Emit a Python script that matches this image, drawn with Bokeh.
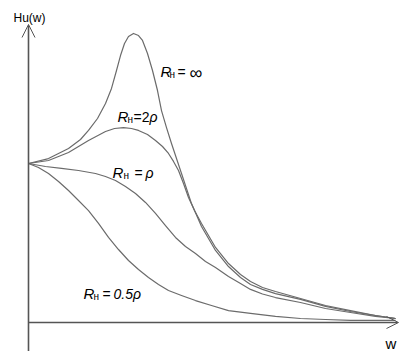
from bokeh.plotting import figure
from bokeh.models import Range1d, Arrow, OpenHead, Label
from bokeh.embed import file_html
from bokeh.resources import INLINE

# ---- data (w, Hu(w) normalised so Hu(0)=1) ----
w_inf = [0, 0.2, 0.4, 0.52, 0.6, 0.69, 0.77, 0.83, 0.88, 0.92, 0.96, 1.0, 1.05, 1.1, 1.14,
         1.19, 1.24, 1.29, 1.33, 1.38, 1.43, 1.53, 1.63, 1.73, 1.87, 2.0, 2.12, 2.22, 2.34,
         2.47, 2.72, 2.97, 3.22, 3.47, 3.67]
h_inf = [1.0, 1.031, 1.094, 1.151, 1.208, 1.283, 1.377, 1.472, 1.585, 1.679, 1.755, 1.799,
         1.818, 1.805, 1.774, 1.692, 1.585, 1.459, 1.333, 1.226, 1.126, 0.937, 0.748, 0.604,
         0.453, 0.352, 0.283, 0.239, 0.208, 0.182, 0.145, 0.101, 0.069, 0.044, 0.025]

w_2r = [0, 0.2, 0.4, 0.6, 0.77, 0.86, 0.95, 1.03, 1.1, 1.19, 1.27, 1.34, 1.4, 1.45, 1.5,
        1.55, 1.6, 1.66, 1.73, 1.87, 2.0, 2.12, 2.22, 2.34, 2.47, 2.72, 2.97, 3.22, 3.47, 3.67]
h_2r = [1.0, 1.019, 1.069, 1.145, 1.201, 1.220, 1.226, 1.220, 1.208, 1.182, 1.145, 1.107,
        1.063, 1.013, 0.956, 0.874, 0.786, 0.704, 0.623, 0.472, 0.371, 0.302, 0.258, 0.220,
        0.195, 0.151, 0.107, 0.075, 0.044, 0.025]

w_r = [0, 0.17, 0.33, 0.5, 0.67, 0.77, 0.87, 0.97, 1.07, 1.17, 1.27, 1.37, 1.47, 1.57, 1.67,
       1.77, 1.87, 2.0, 2.12, 2.22, 2.34, 2.47, 2.72, 2.97, 3.22, 3.47, 3.67]
h_r = [1.0, 0.981, 0.969, 0.956, 0.937, 0.918, 0.893, 0.855, 0.811, 0.755, 0.686, 0.610,
       0.535, 0.478, 0.434, 0.384, 0.346, 0.289, 0.245, 0.208, 0.179, 0.157, 0.126, 0.088,
       0.063, 0.038, 0.025]

w_05r = [0, 0.1, 0.2, 0.3, 0.4, 0.5, 0.6, 0.7, 0.8, 0.9, 1.0, 1.1, 1.2, 1.3, 1.4, 1.53, 1.67,
         1.83, 2.0, 2.22, 2.47, 2.72, 2.97, 3.22, 3.47, 3.67]
h_05r = [1.0, 0.975, 0.937, 0.887, 0.830, 0.767, 0.704, 0.623, 0.535, 0.459, 0.390, 0.333,
         0.283, 0.239, 0.201, 0.170, 0.138, 0.107, 0.075, 0.057, 0.038, 0.025, 0.019, 0.013,
         0.013, 0.013]

y_label = "Hu(w)"
x_label = "w"

# ---- layout helpers (page pixels -> data units) ----
X0, Y0, SX, SY = 28, 322, 100.0, 159.0
def lx(px):
    return (px - X0) / SX
def ly(py):
    return (Y0 - py) / SY

W, H = 415, 351
p = figure(width=W, height=H, output_backend="svg", toolbar_location=None,
           x_range=Range1d(lx(0), lx(W)), y_range=Range1d(ly(H), ly(0)),
           x_axis_location=None, y_axis_location=None, min_border=0)
p.outline_line_color = None
p.xgrid.visible = False
p.ygrid.visible = False
p.background_fill_color = "white"
p.border_fill_color = "white"

curve_color = "#6b6b6b"
for xs, ys in [(w_inf, h_inf), (w_2r, h_2r), (w_r, h_r), (w_05r, h_05r)]:
    p.line(xs, ys, line_color=curve_color, line_width=1.2, line_join="round")

axis_color = "#555555"
p.add_layout(Arrow(end=OpenHead(size=13, line_color=axis_color, line_width=1),
                   x_start=0, y_start=ly(H), x_end=0, y_end=ly(24),
                   line_color=axis_color, line_width=1.6))
p.add_layout(Arrow(end=OpenHead(size=12, line_color=axis_color, line_width=1),
                   x_start=0, y_start=0, x_end=lx(398), y_end=0,
                   line_color=axis_color, line_width=1.6))

FONT = "Liberation Sans"
def lab(text, px, py, size=14, style="normal"):
    p.add_layout(Label(x=lx(px), y=ly(py), text=text, text_font=FONT,
                       text_font_size=f"{size}px", text_font_style=style,
                       text_color="black", text_baseline="alphabetic", text_align="left"))

lab(y_label, 13, 17, 12)
lab(x_label, 385, 343, 15)

# R_н = ∞
lab("R", 160, 71, 15, "italic")
lab("н", 169, 74, 10)
lab("=", 177, 71, 14)
lab("∞", 189, 72, 18)
# R_н = 2ρ
lab("R", 117, 116, 15, "italic")
lab("н", 127, 119, 10)
lab("=2", 133, 116, 14)
lab("ρ", 149, 116, 14, "italic")
# R_н = ρ
lab("R", 112, 172, 15, "italic")
lab("н", 123, 175, 10)
lab("=", 134, 172, 14)
lab("ρ", 145, 172, 14, "italic")
# R_н = 0.5ρ
lab("R", 83, 293, 15, "italic")
lab("н", 93, 296, 10)
lab("=", 102, 293, 14)
lab("0.5ρ", 113, 293, 14, "italic")

open("out.html", "w").write(file_html(p, INLINE))
